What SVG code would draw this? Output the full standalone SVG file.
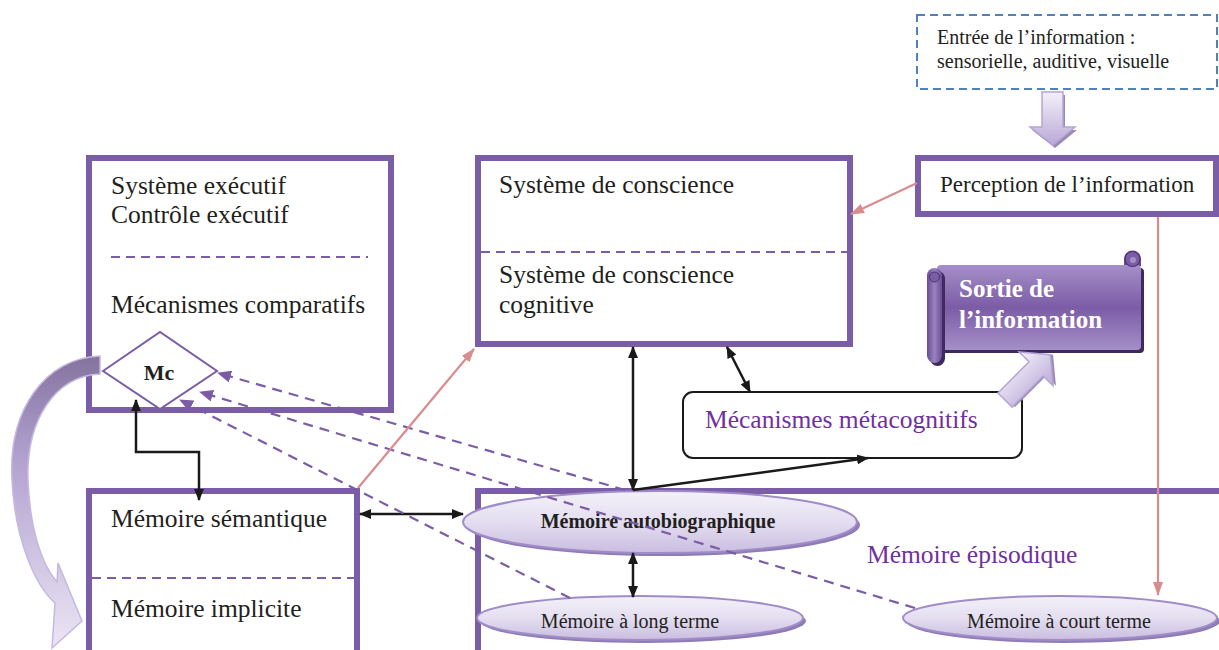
<svg xmlns="http://www.w3.org/2000/svg" width="1219" height="650" viewBox="0 0 1219 650">
<style>
.box{fill:#fff;stroke:#7b5ca6;stroke-width:6}
.div{stroke:#7b5ca6;stroke-width:2;stroke-dasharray:9,6;fill:none}
.t{font-family:"Liberation Serif","Times New Roman",serif;font-size:25.5px;fill:#231f20}
.tp{font-family:"Liberation Serif","Times New Roman",serif;font-size:25.5px;fill:#7030a0}
.ts{font-family:"Liberation Serif","Times New Roman",serif;font-size:20px;fill:#231f20}
.tb{font-family:"Liberation Serif","Times New Roman",serif;font-weight:bold;fill:#231f20}
.blk{stroke:#1a1a1a;stroke-width:2.5;fill:none;marker-start:url(#ab);marker-end:url(#ab)}
.dsh{stroke:#7b5ca6;stroke-width:2.2;stroke-dasharray:10,7;fill:none;marker-end:url(#ap)}
.pnk{stroke:#d98c8e;stroke-width:2.2;fill:none;marker-end:url(#ak)}
.ell{fill:url(#gEll);stroke:#a08cc8;stroke-width:2}
.shd{fill:#8f7bb5}
</style>
<defs>
<marker id="ab" viewBox="0 0 12 10" refX="11" refY="5" markerWidth="12" markerHeight="10" markerUnits="userSpaceOnUse" orient="auto-start-reverse"><path d="M0,0 L12,5 L0,10 Z" fill="#1a1a1a"/></marker>
<marker id="ap" viewBox="0 0 14 12" refX="13" refY="6" markerWidth="14" markerHeight="12" markerUnits="userSpaceOnUse" orient="auto"><path d="M0,0 L14,6 L0,12 Z" fill="#7b5ca6"/></marker>
<marker id="ak" viewBox="0 0 14 10" refX="13" refY="5" markerWidth="14" markerHeight="10" markerUnits="userSpaceOnUse" orient="auto"><path d="M0,0 L14,5 L0,10 Z" fill="#d98c8e"/></marker>
<linearGradient id="gEll" x1="0" y1="0" x2="0" y2="1"><stop offset="0" stop-color="#f4f1f9"/><stop offset="0.5" stop-color="#e4def0"/><stop offset="1" stop-color="#c9bde0"/></linearGradient>
<linearGradient id="gScroll" x1="0" y1="0" x2="0" y2="1"><stop offset="0" stop-color="#a58fc8"/><stop offset="0.5" stop-color="#7b5ca6"/><stop offset="1" stop-color="#a58fc8"/></linearGradient>
<linearGradient id="gRoll" x1="0" y1="0" x2="1" y2="0"><stop offset="0" stop-color="#6a4c96"/><stop offset="0.5" stop-color="#9a82c0"/><stop offset="1" stop-color="#6a4c96"/></linearGradient>
<linearGradient id="gBlk" x1="0" y1="0" x2="0" y2="1"><stop offset="0" stop-color="#f4f1f9"/><stop offset="1" stop-color="#b9a9d8"/></linearGradient>
<linearGradient id="gCurve" x1="0" y1="0" x2="0" y2="1"><stop offset="0" stop-color="#85739f"/><stop offset="0.35" stop-color="#b1a1cf"/><stop offset="1" stop-color="#ebe6f4"/></linearGradient>
</defs>

<g id="entree">
<rect x="917" y="15" width="300" height="74" fill="#fff" stroke="#4f81bd" stroke-width="2" stroke-dasharray="8,5"/>
<text class="ts" x="937" y="44">Entrée de l’information :</text>
<text class="ts" x="937" y="68">sensorielle, auditive, visuelle</text>
</g>

<g id="arrow-entree">
<polygon points="1044,95 1065,95 1065,130 1077,130 1055,148 1032,130 1044,130" fill="#9a8ab5"/>
<polygon points="1042,92 1063,92 1063,127 1075,127 1053,145 1030,127 1042,127" fill="url(#gBlk)" stroke="#b5a5d5" stroke-width="1.5"/>
</g>

<g id="executif">
<rect class="box" x="89" y="158" width="302" height="252"/>
<line class="div" x1="111" y1="257" x2="368" y2="257"/>
<text class="t" x="111" y="194">Système exécutif</text>
<text class="t" x="111" y="223">Contrôle exécutif</text>
<text class="t" x="111" y="313">Mécanismes comparatifs</text>
</g>

<g id="conscience">
<rect class="box" x="478" y="158" width="372" height="186"/>
<line class="div" x1="481" y1="252" x2="847" y2="252"/>
<text class="t" x="499" y="193">Système de conscience</text>
<text class="t" x="499" y="283">Système de conscience</text>
<text class="t" x="499" y="313">cognitive</text>
</g>

<g id="perception">
<rect class="box" x="918" y="158" width="298" height="56"/>
<text class="t" style="font-size:23px" x="940" y="192">Perception de l’information</text>
</g>

<g id="sortie">
<rect x="940" y="268" width="204" height="85" rx="4" fill="#3e2a5c"/>
<path d="M1124,266 L1124,259 A8.5,8.5 0 0 1 1141,259 L1141,266 Z" fill="#6a4c96"/>
<rect x="937" y="265" width="204" height="85" rx="4" fill="url(#gScroll)"/>
<circle cx="1132.5" cy="259" r="7.5" fill="#7b5ca6" stroke="#4b3470" stroke-width="1.2"/>
<circle cx="1133" cy="260" r="3" fill="#a58fc8"/>
<rect x="930" y="271" width="15" height="95" rx="7.5" fill="#3e2a5c"/>
<rect x="927" y="268" width="15" height="95" rx="7.5" fill="url(#gRoll)"/>
<circle cx="934.5" cy="277" r="5" fill="#7b5ca6" stroke="#4b3470" stroke-width="1"/>
<text class="tb" style="font-size:25px;fill:#fff" x="959" y="297">Sortie de</text>
<text class="tb" style="font-size:25px;fill:#fff" x="959" y="328">l’information</text>
</g>

<g id="meta">
<rect x="683" y="392" width="339" height="66" rx="10" fill="#fff" stroke="#1a1a1a" stroke-width="2"/>
<text class="tp" x="705" y="428">Mécanismes métacognitifs</text>
</g>

<g id="arrow-sortie" transform="translate(1005,400) rotate(-45)">
<polygon points="2,-8 46,-8 46,-22 66,2 46,26 46,12 2,12" fill="#9a8ab5"/>
<polygon points="0,-10 44,-10 44,-24 64,0 44,24 44,10 0,10" fill="url(#gBlk)" stroke="#b5a5d5" stroke-width="1.5"/>
</g>

<g id="semantique">
<rect class="box" x="89" y="491" width="268" height="200"/>
<line class="div" x1="92" y1="578" x2="354" y2="578"/>
<text class="t" x="111" y="527">Mémoire sémantique</text>
<text class="t" x="111" y="617">Mémoire implicite</text>
</g>

<g id="episodique">
<rect class="box" x="478" y="491" width="760" height="200"/>
<text class="tp" x="867" y="563">Mémoire épisodique</text>
</g>

<g id="autobio">
<ellipse class="shd" cx="663" cy="525" rx="197" ry="31"/>
<ellipse class="ell" cx="660" cy="522" rx="197" ry="31"/>
<text class="tb" style="font-size:20px" x="658" y="528" text-anchor="middle">Mémoire autobiographique</text>
</g>

<g id="longterme">
<ellipse class="shd" cx="643" cy="621" rx="163" ry="22"/>
<ellipse class="ell" cx="640" cy="618" rx="163" ry="22"/>
<text class="ts" x="630" y="628" text-anchor="middle">Mémoire à long terme</text>
</g>

<g id="courtterme">
<ellipse class="shd" cx="1063" cy="621" rx="157" ry="22"/>
<ellipse class="ell" cx="1060" cy="618" rx="157" ry="22"/>
<text class="ts" x="1059" y="628" text-anchor="middle">Mémoire à court terme</text>
</g>

<g id="mc">
<polygon points="103,371 160,332 217,371 160,409" fill="#fff" stroke="#7b5ca6" stroke-width="2"/>
<text class="tb" style="font-size:22px" x="159" y="380" text-anchor="middle">Mc</text>
</g>

<g id="curved-arrow">
<path d="M100,356 C45,358 8,410 12,480 C15,540 35,585 55,603 L52,648 L82,621 L58,563 L57,582 C42,565 30,530 28,480 C26,420 55,376 100,374 Z" fill="url(#gCurve)" stroke="#c6b8e0" stroke-width="1.5"/>
</g>

<g id="connectors">
<polyline class="blk" points="136,400 136,452 199,452 199,500"/>
<line class="blk" x1="360" y1="514" x2="463" y2="514"/>
<line class="blk" x1="633" y1="347" x2="633" y2="490"/>
<line class="blk" x1="727" y1="347" x2="750" y2="392"/>
<line class="blk" style="marker-start:none" x1="633" y1="490" x2="868" y2="458"/>
<line class="blk" x1="633" y1="553" x2="633" y2="597"/>
<line class="dsh" x1="625" y1="490" x2="218" y2="373"/>
<line class="dsh" x1="915" y1="608" x2="200" y2="392"/>
<line class="dsh" x1="570" y1="598" x2="180" y2="400"/>
<line class="pnk" x1="917" y1="183" x2="851" y2="214"/>
<line class="pnk" x1="358" y1="488" x2="474" y2="349"/>
<line class="pnk" x1="1158" y1="217" x2="1158" y2="595"/>
</g>
</svg>
